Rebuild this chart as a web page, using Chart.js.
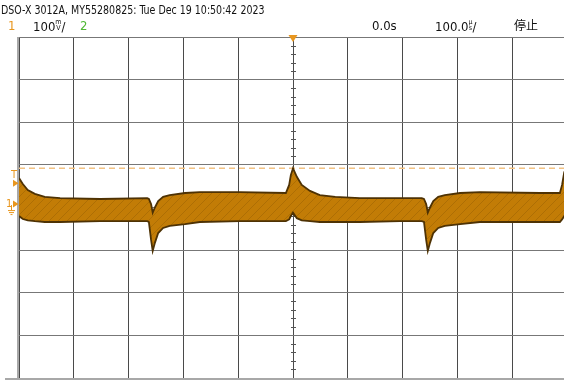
<!DOCTYPE html>
<html>
<head>
<meta charset="utf-8">
<script src="https://cdn.jsdelivr.net/npm/chart.js@4.4.0/dist/chart.umd.min.js"></script>
<style>
  html, body { margin: 0; padding: 0; background: #fff; }
  body { width: 564px; height: 381px; overflow: hidden; position: relative;
         font-family: "Liberation Sans Narrow", "DejaVu Sans Condensed", sans-serif; }
  #scope { position: absolute; left: 0; top: 0; }
  .lbl { position: absolute; white-space: nowrap; font-size: 13px; line-height: 1; color: #111; }
  .narrow { transform: scaleX(0.81); transform-origin: 0 0; }
  .stk { display: inline-block; font-size: 7px; line-height: 6px; text-align: center; vertical-align: 1px; }
</style>
</head>
<body>
<canvas id="scope" width="570" height="381"></canvas>
<div class="lbl narrow" style="left:1px;top:3px">DSO-X 3012A, MY55280825: Tue Dec 19 10:50:42 2023</div>
<div class="lbl" style="left:8px;top:19px;color:#e8961e">1</div>
<div class="lbl" style="left:33px;top:19px">100<span class="stk">m<br>V</span>/</div>
<div class="lbl" style="left:80px;top:19px;color:#4fb833">2</div>
<div class="lbl" style="left:372px;top:19px">0.0s</div>
<div class="lbl" style="left:435px;top:19px">100.0<span class="stk">µ<br>s</span>/</div>
<div class="lbl" style="left:514px;top:19px;font-family:'Noto Sans CJK JP',sans-serif;font-size:12px">停止</div>
<script>
// Time axis in microseconds (100 us/div), voltage in mV (100 mV/div)
const timeUs = [-500, -493, -484, -471, -453, -425, -352, -266, -263, -259, -256, -252, -246, -237, -225, -197, -170, -97,
                -13, -7, -4, 0, 7, 16, 31, 49, 77, 122, 195, 235, 239, 243, 246, 250, 256, 265, 277, 305, 341, 451, 487, 491, 495, 500];

// Upper envelope of channel 1 trace
const envTopMv = [69, 55, 41, 32, 25, 22, 20, 22, 20, 8, -12, 0, 15, 25, 29, 34, 36, 36,
                  34, 53, 76, 92, 72, 53, 39, 29, 25, 22, 22, 22, 20, 8, -12, 0, 15, 25, 29, 34, 36, 34, 34, 53, 83, 92];

// Lower envelope of channel 1 trace
const envBottomMv = [-20, -27, -30, -32, -34, -34, -32, -32, -34, -76, -102, -83, -60, -48, -43, -39, -34, -32,
                     -32, -28, -20, -12, -25, -30, -32, -34, -34, -34, -32, -32, -34, -76, -102, -83, -60, -48, -43, -39, -34, -34, -34, -28, -20, -12];

const triggerMv = 92;
const groundMarkMv = 8;
const trigMarkMv = 57;

const ch1Color = '#e8961e';
const traceEdge = '#4e3204';

function bandPattern() {
    const c = document.createElement('canvas');
    c.width = 9; c.height = 9;
    const g = c.getContext('2d');
    g.fillStyle = '#c27c06';
    g.fillRect(0, 0, 9, 9);
    g.strokeStyle = 'rgba(120,74,0,0.28)';
    g.lineWidth = 1;
    g.beginPath(); g.moveTo(0, 9); g.lineTo(9, 0); g.stroke();
    return g.createPattern(c, 'repeat');
}

const toPoints = arr => arr.map((v, i) => ({ x: timeUs[i], y: v }));

// Scope decorations: borders, minor ticks on centre axes, markers
const scopeDecor = {
    id: 'scopeDecor',
    beforeDatasetsDraw(chart) {
        const { ctx, chartArea: a, scales: { x, y } } = chart;
        ctx.save();
        ctx.strokeStyle = '#555';
        ctx.lineWidth = 1;
        const cx = Math.round(x.getPixelForValue(0)) + 0.5;
        const cy = Math.round(y.getPixelForValue(0)) + 0.5;
        ctx.beginPath();
        for (let v = -400; v <= 400; v += 20) {
            if (v % 100 === 0) continue;
            const py = Math.round(y.getPixelForValue(v)) + 0.5;
            ctx.moveTo(cx - 2.5, py); ctx.lineTo(cx + 2.5, py);
        }
        for (let t = -500; t <= 500; t += 20) {
            if (t % 100 === 0) continue;
            const px = Math.round(x.getPixelForValue(t)) + 0.5;
            ctx.moveTo(px, cy - 2.5); ctx.lineTo(px, cy + 2.5);
        }
        ctx.stroke();
        // outer borders
        ctx.strokeStyle = '#a8a8a8';
        ctx.lineWidth = 2;
        ctx.beginPath();
        ctx.moveTo(a.left - 1, a.top); ctx.lineTo(a.left - 1, a.bottom);
        ctx.moveTo(5, a.bottom + 1); ctx.lineTo(chart.width, a.bottom + 1);
        ctx.stroke();
        ctx.restore();
    },
    afterDraw(chart) {
        const { ctx, chartArea: a, scales: { x, y } } = chart;
        ctx.save();
        ctx.fillStyle = ch1Color;
        ctx.strokeStyle = ch1Color;
        // trigger position marker at top
        const tx = x.getPixelForValue(0);
        ctx.beginPath();
        ctx.moveTo(tx - 4.5, a.top - 2); ctx.lineTo(tx + 4.5, a.top - 2); ctx.lineTo(tx, a.top + 5);
        ctx.closePath(); ctx.fill();
        // trigger level marker
        const ty = y.getPixelForValue(trigMarkMv);
        ctx.font = '11px "DejaVu Sans Condensed", sans-serif';
        ctx.textBaseline = 'alphabetic';
        ctx.fillText('T', 11, ty - 5);
        ctx.beginPath();
        ctx.moveTo(13, ty - 3.5); ctx.lineTo(18.5, ty); ctx.lineTo(13, ty + 3.5);
        ctx.closePath(); ctx.fill();
        // channel 1 ground marker
        const gy = y.getPixelForValue(groundMarkMv);
        ctx.fillText('1', 6, gy + 3);
        ctx.beginPath();
        ctx.moveTo(13, gy - 3.5); ctx.lineTo(18.5, gy); ctx.lineTo(13, gy + 3.5);
        ctx.closePath(); ctx.fill();
        ctx.lineWidth = 1;
        ctx.beginPath();
        ctx.moveTo(11.5, gy + 1); ctx.lineTo(11.5, gy + 6);
        ctx.moveTo(8, gy + 6.5); ctx.lineTo(15, gy + 6.5);
        ctx.moveTo(9, gy + 8.5); ctx.lineTo(14, gy + 8.5);
        ctx.moveTo(10.5, gy + 10.5); ctx.lineTo(12.5, gy + 10.5);
        ctx.stroke();
        ctx.restore();
    }
};

new Chart(document.getElementById('scope').getContext('2d'), {
    type: 'line',
    data: {
        datasets: [
            {
                label: 'CH1 max',
                data: toPoints(envTopMv),
                borderColor: traceEdge,
                borderWidth: 1.8,
                pointRadius: 0,
                tension: 0,
                fill: false,
                order: 1
            },
            {
                label: 'CH1 min',
                data: toPoints(envBottomMv),
                borderColor: traceEdge,
                borderWidth: 1.8,
                pointRadius: 0,
                tension: 0,
                fill: { target: 0 },
                backgroundColor: bandPattern(),
                order: 1
            },
            {
                label: 'Trigger level',
                data: [{ x: -500, y: triggerMv }, { x: 500, y: triggerMv }],
                borderColor: '#f2c284',
                borderWidth: 1.5,
                borderDash: [6, 4],
                pointRadius: 0,
                fill: false,
                order: 3
            }
        ]
    },
    options: {
        responsive: false,
        animation: false,
        devicePixelRatio: 1,
        layout: { padding: { left: 19, top: 37, right: 3, bottom: 3 } },
        scales: {
            x: {
                type: 'linear', min: -500, max: 500,
                ticks: { display: false, stepSize: 100 },
                grid: { color: '#4a4a4a', lineWidth: 1, drawTicks: false },
                border: { display: false }
            },
            y: {
                type: 'linear', min: -400, max: 400,
                ticks: { display: false, stepSize: 100 },
                grid: { color: '#777', lineWidth: 1, drawTicks: false },
                border: { display: false }
            }
        },
        plugins: { legend: { display: false }, tooltip: { enabled: false } }
    },
    plugins: [scopeDecor]
});
</script>
</body>
</html>
